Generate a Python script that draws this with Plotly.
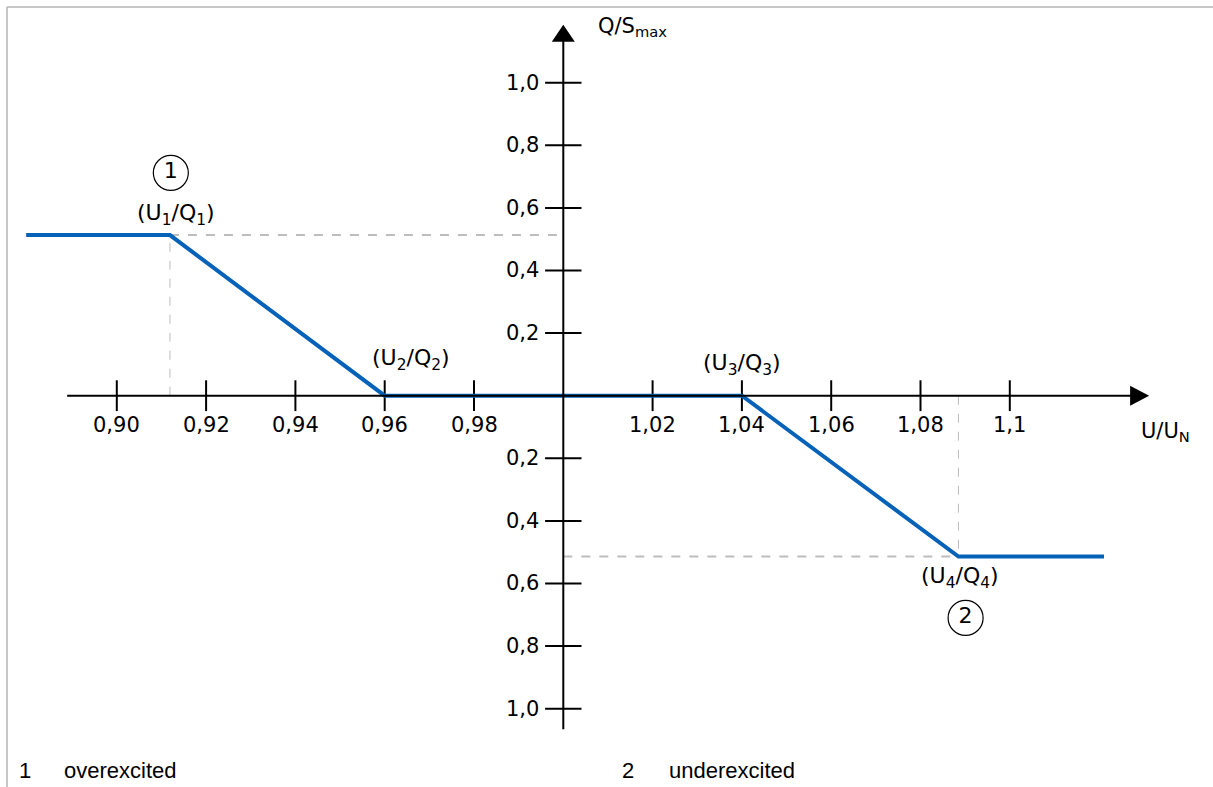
"""Q(U) characteristic: reactive power vs voltage."""

import plotly.graph_objects as go

# characteristic points (U/Un, Q/Smax)
u_points = [0.8797, 0.9119, 0.96, 1.04, 1.0885, 1.1211]
q_points = [0.513, 0.513, 0.0, 0.0, -0.514, -0.514]

# axis ticks
x_ticks = [0.90, 0.92, 0.94, 0.96, 0.98, 1.00, 1.02, 1.04, 1.06, 1.08, 1.10]
x_tick_labels = ["0,90", "0,92", "0,94", "0,96", "0,98", "", "1,02", "1,04", "1,06", "1,08", "1,1"]
y_ticks = [1.0, 0.8, 0.6, 0.4, 0.2, -0.2, -0.4, -0.6, -0.8, -1.0]
y_tick_labels = ["1,0", "0,8", "0,6", "0,4", "0,2", "0,2", "0,4", "0,6", "0,8", "1,0"]

point_labels = ["(U<sub>1</sub>/Q<sub>1</sub>)", "(U<sub>2</sub>/Q<sub>2</sub>)",
                "(U<sub>3</sub>/Q<sub>3</sub>)", "(U<sub>4</sub>/Q<sub>4</sub>)"]

key_numbers = ["1", "2"]
key_texts = ["overexcited", "underexcited"]

COLOR_LINE = "#0562b8"
COLOR_AXIS = "#000000"
COLOR_GUIDE = "#bdbdbd"
COLOR_FRAME = "#b4b4b4"
FONT = "DejaVu Sans"

X0, X1 = 0.88888, 1.1312
Y0, Y1 = -1.066, 1.185

fig = go.Figure()

# guide lines (dashed)
u1, q1 = u_points[1], q_points[1]
u4, q4 = u_points[4], q_points[4]
fig.add_shape(type="line", x0=u1, x1=1.0, y0=q1, y1=q1,
              line=dict(color=COLOR_GUIDE, width=2, dash="dash"), layer="below")
fig.add_shape(type="line", x0=u1, x1=u1, y0=0, y1=q1,
              line=dict(color=COLOR_GUIDE, width=1, dash="dash"), layer="below")
fig.add_shape(type="line", x0=1.0, x1=u4, y0=q4, y1=q4,
              line=dict(color=COLOR_GUIDE, width=2, dash="dash"), layer="below")
fig.add_shape(type="line", x0=u4, x1=u4, y0=0, y1=q4,
              line=dict(color=COLOR_GUIDE, width=1, dash="dash"), layer="below")

# axes
fig.add_shape(type="line", x0=X0, x1=X1 - 0.004, y0=0, y1=0,
              line=dict(color=COLOR_AXIS, width=2))
fig.add_shape(type="line", x0=1.0, x1=1.0, y0=Y0, y1=Y1 - 0.05,
              line=dict(color=COLOR_AXIS, width=2))
# arrow heads
fig.add_shape(type="path", xsizemode="pixel", ysizemode="pixel",
              xanchor=X1, yanchor=0, path="M0,0 L-19,-10 L-19,10 Z",
              fillcolor=COLOR_AXIS, line=dict(width=0))
fig.add_shape(type="path", xsizemode="pixel", ysizemode="pixel",
              xanchor=1.0, yanchor=Y1, path="M0,0 L-11.5,-17 L11.5,-17 Z",
              fillcolor=COLOR_AXIS, line=dict(width=0))

# tick marks
tick_x = [t for t in x_ticks if t != 1.0]
fig.add_trace(go.Scatter(
    x=tick_x, y=[0] * len(tick_x), mode="markers",
    marker=dict(symbol="line-ns", size=22, line=dict(color=COLOR_AXIS, width=2)),
    hoverinfo="skip",
))
fig.add_trace(go.Scatter(
    x=[1.0] * len(y_ticks), y=y_ticks, mode="markers",
    marker=dict(symbol="line-ew", size=26, line=dict(color=COLOR_AXIS, width=2)),
    hoverinfo="skip",
))

# characteristic
fig.add_trace(go.Scatter(
    x=u_points, y=q_points, mode="lines",
    line=dict(color=COLOR_LINE, width=4),
    hovertemplate="U/Un: %{x}<br>Q/Smax: %{y}<extra></extra>",
))

# circled numbers
fig.add_trace(go.Scatter(
    x=[u1 + 0.0002, u4 + 0.0016], y=[0.712, -0.71], mode="markers+text",
    marker=dict(symbol="circle-open", size=35, color=COLOR_AXIS, line=dict(width=1.2)),
    text=key_numbers, textposition="middle center",
    textfont=dict(family=FONT, size=22, color=COLOR_AXIS),
    hoverinfo="skip",
))

annotations = []
for t, lab in zip(x_ticks, x_tick_labels):
    if lab:
        annotations.append(dict(x=t, y=0, text=lab, showarrow=False, yshift=-29,
                                font=dict(family=FONT, size=21, color=COLOR_AXIS)))
for t, lab in zip(y_ticks, y_tick_labels):
    annotations.append(dict(x=1.0, y=t, text=lab, showarrow=False, xanchor="right",
                            xshift=-22, font=dict(family=FONT, size=21, color=COLOR_AXIS)))

label_pos = [(u1 + 0.0013, 0.58), (u_points[2] + 0.006, 0.115),
             (u_points[3], 0.1), (u4 + 0.0003, -0.58)]
for (lx, ly), lab in zip(label_pos, point_labels):
    annotations.append(dict(x=lx, y=ly, text=lab, showarrow=False,
                            font=dict(family=FONT, size=22, color=COLOR_AXIS)))

# axis titles
annotations.append(dict(x=1.0, y=Y1, text="Q/S<sub>max</sub>", showarrow=False,
                        xanchor="left", xshift=33, yshift=-2,
                        font=dict(family=FONT, size=21, color=COLOR_AXIS)))
annotations.append(dict(x=X1, y=0, text="U/U<sub>N</sub>", showarrow=False,
                        xanchor="left", xshift=-10, yshift=-36,
                        font=dict(family=FONT, size=21, color=COLOR_AXIS)))

# key below the chart
legend_font = dict(family="Liberation Sans, Arial", size=22, color=COLOR_AXIS)
key_x = [(17, 62), (620, 667)]
for (nx, tx), num, txt in zip(key_x, key_numbers, key_texts):
    for px_x, s in [(nx, num), (tx, txt)]:
        annotations.append(dict(x=px_x / 1213, y=1 - 770 / 787, xref="paper", yref="paper",
                                text=s, showarrow=False, xanchor="left", yanchor="middle",
                                font=legend_font))

# frame (left and top edges)
fig.add_shape(type="line", xref="paper", yref="paper", x0=7 / 1213, x1=7 / 1213, y0=0, y1=1 - 7 / 787,
              line=dict(color=COLOR_FRAME, width=1.5))
fig.add_shape(type="line", xref="paper", yref="paper", x0=7 / 1213, x1=1, y0=1 - 7 / 787, y1=1 - 7 / 787,
              line=dict(color=COLOR_FRAME, width=1.5))

fig.update_layout(
    width=1213,
    height=787,
    margin=dict(l=0, r=0, t=0, b=0),
    paper_bgcolor="white",
    plot_bgcolor="white",
    showlegend=False,
    annotations=annotations,
    xaxis=dict(range=[0.87384, 1.14551], visible=False, fixedrange=True),
    yaxis=dict(range=[-1.2502, 1.2642], visible=False, fixedrange=True),
)

fig.write_html("out.html", config={"displayModeBar": False},
               post_script="document.body.style.margin='0';")
